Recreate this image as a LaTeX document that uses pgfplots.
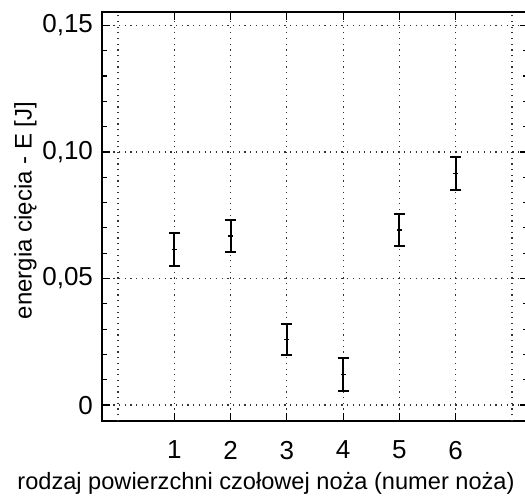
\documentclass[border=0pt]{standalone}
\usepackage{pgfplots}
\pgfplotsset{compat=1.18}
\usepackage{fontspec}
\setmainfont{Liberation Sans}

\begin{document}
\begin{tikzpicture}
\begin{axis}[name=ax,
  scale only axis, width=213pt, height=204.5pt,
  xmin=-0.284, xmax=7.284, ymin=-0.0063, ymax=0.1553,
  axis line style={line width=0.8pt},
  xtick={1,2,3,4,5,6},
  extra x ticks={0,7}, extra x tick labels={},
  extra x tick style={major tick length=0pt, grid=major},
  ytick={0,0.05,0.10,0.15},
  yticklabels={0,{0,05},{0,10},{0,15}},
  minor y tick num=4,
  major tick length=4pt, minor tick length=2.5pt,
  tick style={black, line width=0.6pt},
  grid=major,
  major grid style={black!80, line width=0.6pt, dash pattern=on 0.6pt off 2.25pt},
  /pgf/number format/assume math mode=true,
  tick label style={font=\fontsize{13}{15}\selectfont},
  xticklabel style={yshift=-6.5pt},
  yticklabel style={xshift=-1pt},
  xlabel={rodzaj powierzchni czołowej noża (numer noża)},
  ylabel={energia cięcia - E [J]},
  xlabel style={font=\fontsize{11.8}{13}\selectfont, xshift=-24.5pt, yshift=0.5pt},
  ylabel style={font=\fontsize{12}{13}\selectfont, yshift=-4pt, xshift=3pt},
]
\addplot[black, only marks, mark=-, mark size=1.2pt, line width=0.9pt,
  error bars/.cd, y dir=both, y explicit,
  error bar style={line width=1pt},
  error mark options={rotate=90, line width=1pt, mark size=2.8pt}]
  coordinates {
  (1,0.0615) +- (0,0.0065)
  (2,0.0668) +- (0,0.0065)
  (3,0.0259) +- (0,0.0063)
  (4,0.0121) +- (0,0.0064)
  (5,0.0691) +- (0,0.0064)
  (6,0.0915) +- (0,0.0066)
  };
\end{axis}
\pgfresetboundingbox
\path[use as bounding box] ([xshift=-51pt,yshift=-39.5pt]ax.south west) rectangle ([xshift=211.5pt,yshift=210.5pt]ax.south west);
\end{tikzpicture}
\end{document}
